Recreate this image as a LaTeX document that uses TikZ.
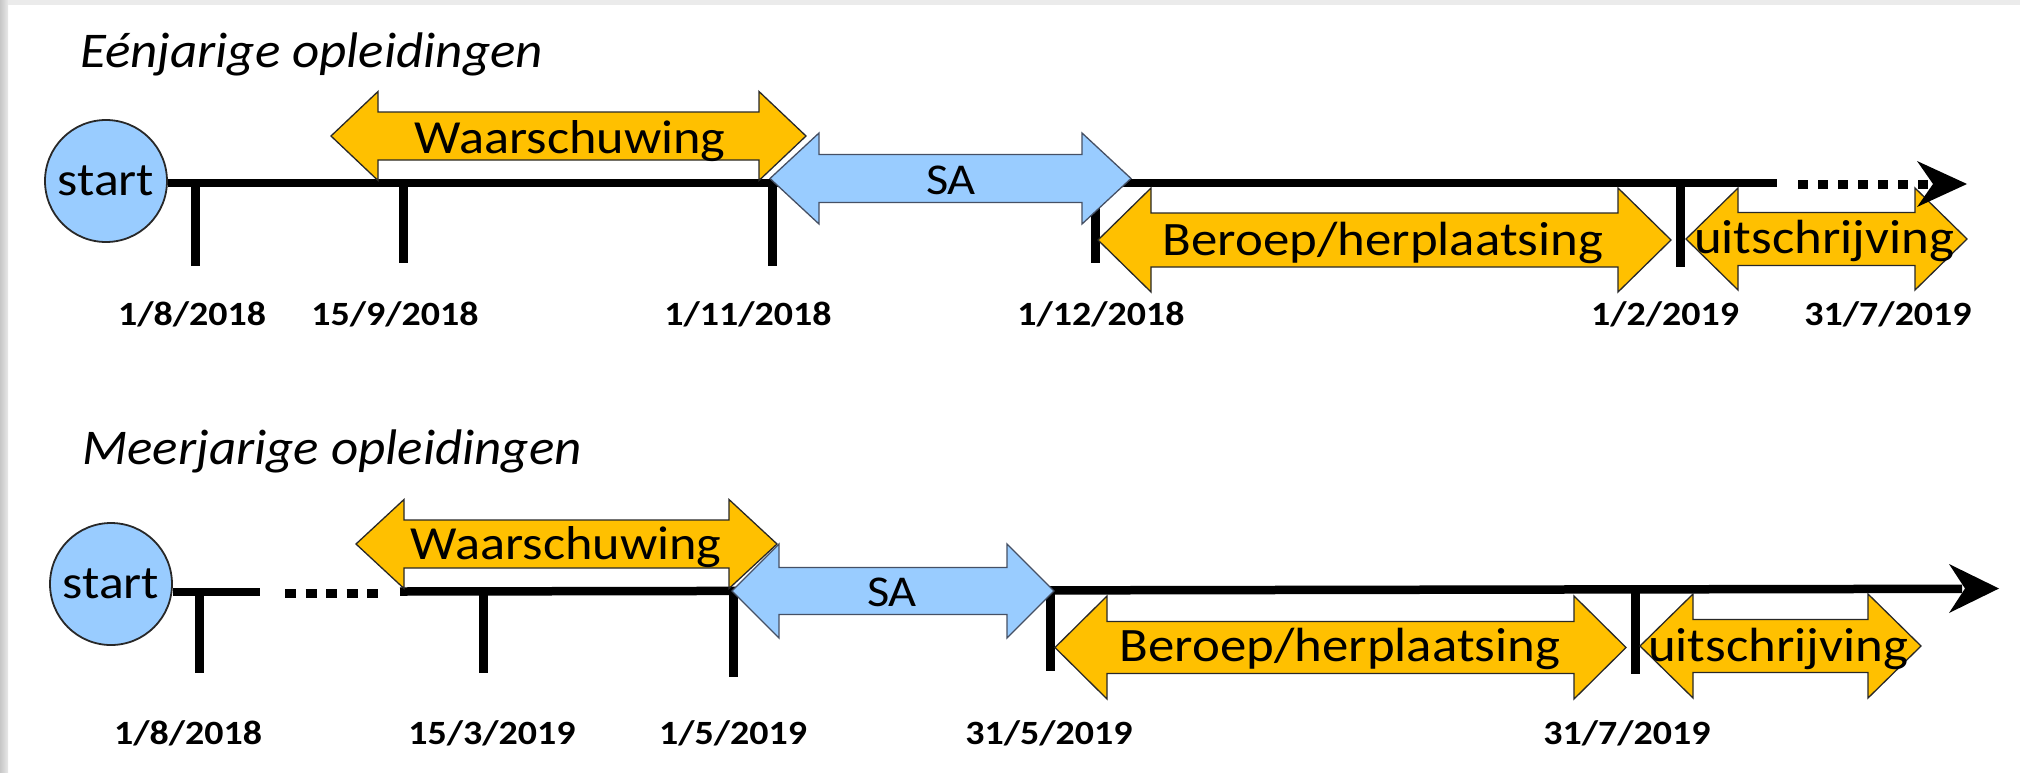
\documentclass[tikz,border=0pt]{standalone}
\usepackage{fontspec}
\setmainfont{Carlito}
\newfontfamily\ttlfont{Carlito}[FakeStretch=1.06]
\newfontfamily\lblfont{Carlito}[FakeStretch=1.1]
\newfontfamily\datefont{Carlito}[FakeStretch=1.115]
\definecolor{ayellow}{RGB}{255,192,0}
\definecolor{ablue}{RGB}{153,204,255}
\definecolor{aedge}{RGB}{40,40,40}
\definecolor{bedge}{RGB}{70,80,100}
% #1 xL, #2 xR, #3 yc, #4 head half-height, #5 shaft half-height, #6 head length, #7 style, #8 name
\newcommand{\mkdblarrow}[8]{%
  \path[#7] (#1,#3) -- (#1+#6,#3-#4) -- (#1+#6,#3-#5) -- (#2-#6,#3-#5) -- (#2-#6,#3-#4)
    -- (#2,#3) -- (#2-#6,#3+#4) -- (#2-#6,#3+#5) -- (#1+#6,#3+#5) -- (#1+#6,#3+#4) -- cycle;
  \coordinate (#8) at ({(#1+#2)/2},#3);}
\begin{document}
\begin{tikzpicture}[x=1pt,y=-1pt,
  tl/.style={line width=8.5pt, line cap=butt, black},
  tick/.style={line width=9pt, line cap=butt, black},
  dots/.style={line width=9pt, line cap=butt, black},
  ya/.style={fill=ayellow, draw=aedge, line width=1.3pt, line join=miter},
  ba/.style={fill=ablue, draw=bedge, line width=1.3pt, line join=miter},
  startc/.style={circle, draw=aedge, line width=1.8pt, fill=ablue, minimum size=122pt, inner sep=0pt,
     font=\lblfont\fontsize{47}{50}\selectfont},
  ttl/.style={inner sep=0pt, anchor=base west, font=\ttlfont\itshape\fontsize{50}{55}\selectfont},
  lblW/.style={inner sep=0pt, anchor=base, font=\lblfont\fontsize{47.5}{50}\selectfont},
  lblSA/.style={inner sep=0pt, anchor=base, font=\lblfont\fontsize{44}{48}\selectfont},
  lblB/.style={inner sep=0pt, anchor=base, font=\lblfont\fontsize{48}{50}\selectfont},
  datel/.style={inner sep=0pt, anchor=base, font=\datefont\bfseries\fontsize{34}{36}\selectfont}
]
\useasboundingbox (0,0) rectangle (2020,772);
\fill[white] (0,0) rectangle (2020,772);
\shade[left color=black!22, right color=black!9] (0,0) rectangle (8,772);
\fill[black!8] (8,0) rectangle (2020,5);

% ================= Row 1 =================
\node[ttl] (ttl1) at (80,67) {Eénjarige opleidingen};
\node[startc] (st1) at (106,181) {start};
\coordinate (e1) at (1777,183);
\draw[tl] (st1.east |- e1) -- (e1);
\coordinate (k11) at (195,183);  \draw[tick] (k11) -- (195,266);
\coordinate (k12) at (403,183);  \draw[tick] (k12) -- (403,263);
\coordinate (k13) at (772,183);  \draw[tick] (k13) -- (772,266);
\coordinate (k14) at (1095,183); \draw[tick] (k14) -- (1095,263);
\coordinate (k15) at (1680,183); \draw[tick] (k15) -- (1680,267);

\mkdblarrow{331}{806}{136}{44.5}{24}{47}{ya}{aw1}
\mkdblarrow{770}{1131}{178.5}{45.5}{24}{49}{ba}{asa1}
\mkdblarrow{1098}{1671}{240}{52}{27}{53}{ya}{ab1}
\mkdblarrow{1686}{1967}{239}{51}{26.5}{52}{ya}{au1}

\node[lblW] (tw1) at (570,153) {Waarschuwing};
\node[lblSA] (tsa1) at (951,194) {SA};
\node[lblB] (tb1) at (1383,255) {Beroep/herplaatsing};
\node[lblB] (tu1) at (1824,253) {uitschrijving};

\coordinate (d1a) at (1798,184);
\coordinate (d1b) at (1930,184);
\draw[dots, dash pattern=on 10pt off 10pt] (d1a) -- (d1b);
\coordinate (tip1) at (1967,184);
\fill[black] (tip1) -- (1917,161) -- (1933,184) -- (1917,207) -- cycle;

\node[datel] (dt11) at (192,325) {1/8/2018};
\node[datel] (dt12) at (395,325) {15/9/2018};
\node[datel] (dt13) at (748,325) {1/11/2018};
\node[datel] (dt14) at (1101,325) {1/12/2018};
\node[datel] (dt15) at (1665,325) {1/2/2019};
\node[datel] (dt16) at (1888,325) {31/7/2019};

% ================= Row 2 =================
\node[ttl] (ttl2) at (82,464) {Meerjarige opleidingen};
\node[startc] (st2) at (111,584) {start};
\coordinate (s2b) at (260,592);
\draw[tl] (st2.east |- s2b) -- (s2b);
\coordinate (d2a) at (285,593);
\coordinate (d2b) at (378,593);
\draw[dots, dash pattern=on 11pt off 9.5pt] (d2a) -- (d2b);
\coordinate (s2c) at (400,591.5);
\coordinate (s2d) at (1962,588.8);
\draw[tl] (s2c) -- (s2d);
\coordinate (tip2) at (1999,588.5);
\fill[black] (tip2) -- (1949,564) -- (1965,588.5) -- (1949,613) -- cycle;

\coordinate (k21) at (199,592);  \draw[tick] (k21) -- (199,673);
\coordinate (k22) at (483,591);  \draw[tick] (k22) -- (483,673);
\coordinate (k23) at (733,591);  \draw[tick] (k23) -- (733,677);
\coordinate (k24) at (1050,590); \draw[tick] (k24) -- (1050,671);
\coordinate (k25) at (1635,590); \draw[tick] (k25) -- (1635,674);

\mkdblarrow{356}{777}{544}{44.5}{24}{48}{ya}{aw2}
\mkdblarrow{732}{1054}{591}{47}{23.5}{47}{ba}{asa2}
\mkdblarrow{1055}{1626}{647.5}{51.5}{26}{52}{ya}{ab2}
\mkdblarrow{1640}{1921}{646}{52}{26.5}{53}{ya}{au2}

\node[lblW] (tw2) at (566,559) {Waarschuwing};
\node[lblSA] (tsa2) at (892,606) {SA};
\node[lblB] (tb2) at (1340,661) {Beroep/herplaatsing};
\node[lblB] (tu2) at (1778,661) {uitschrijving};

\node[datel] (dt21) at (188,744) {1/8/2018};
\node[datel] (dt22) at (492,744) {15/3/2019};
\node[datel] (dt23) at (733,744) {1/5/2019};
\node[datel] (dt24) at (1049,744) {31/5/2019};
\node[datel] (dt25) at (1627,744) {31/7/2019};
\end{tikzpicture}
\end{document}
